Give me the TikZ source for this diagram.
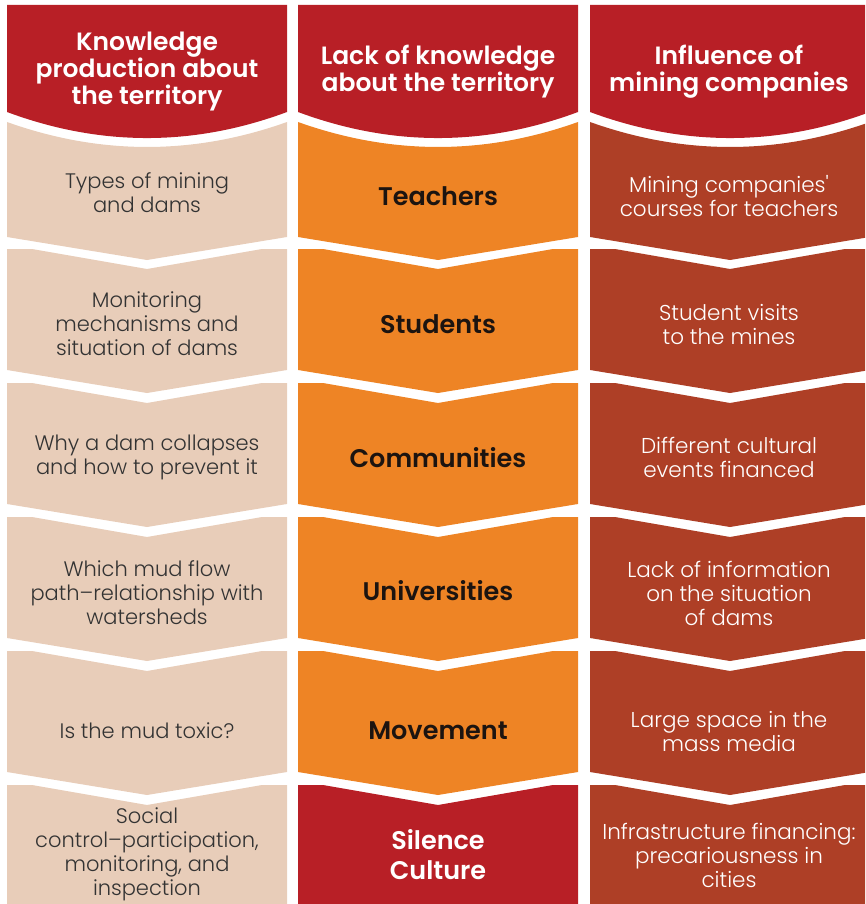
\documentclass[tikz,border=0pt]{standalone}
\usepackage{fontspec}
\setmainfont{Poppins}[BoldFont={Poppins SemiBold}]
\newfontfamily\lightfont{Poppins Light}
\definecolor{hdred}{HTML}{B81F26}
\definecolor{sand}{HTML}{E8CDB9}
\definecolor{amber}{HTML}{EE8425}
\definecolor{rust}{HTML}{AE3F26}
\definecolor{inkgrey}{HTML}{333333}
\definecolor{inkdark}{HTML}{1C1410}

% cell with a notched top and a pointed bottom:
% #1 left x, #2 right x, #3 top y, #4 bottom y, #5 colour
\newcommand\chevcell[5]{%
  \fill[#5] (#1,#3) -- ({#1+25},#3) -- ({(#1+#2)/2},{#3+20}) -- ({#2-25},#3) -- (#2,#3)
    -- (#2,#4) -- ({(#1+#2)/2},{#4+23}) -- (#1,#4) -- cycle;}
% heading block with an arched bottom
\newcommand\headcell[2]{%
  \fill[hdred] (#1,5) -- (#2,5) -- (#2,112)
    .. controls ({#2-(#2-#1)/3},146.7) and ({#1+(#2-#1)/3},146.7) .. (#1,112) -- cycle;}
% first cell, its top following the arch
\newcommand\firstcell[3]{%
  \fill[#3] (#1,122) .. controls ({#1+(#2-#1)/3},155.3) and ({#2-(#2-#1)/3},155.3) .. (#2,122)
    -- (#2,237) -- ({(#1+#2)/2},260) -- (#1,237) -- cycle;}

\tikzset{
  headtext/.style={align=center, text=white, font=\fontsize{25}{27}\selectfont\bfseries},
  lefttext/.style={align=center, text=inkgrey, font=\lightfont\fontsize{21}{24}\selectfont},
  midtext/.style={align=center, text=inkdark, font=\fontsize{25.5}{30}\selectfont\bfseries},
  righttext/.style={align=center, text=white, font=\lightfont\fontsize{21.5}{24}\selectfont},
}

\begin{document}
\begin{tikzpicture}[x=1pt,y=-1pt]
\useasboundingbox (0,0) rectangle (865,904);
\clip (0,0) rectangle (865,904);

% column shapes
\foreach \L/\R/\col in {7/287/sand, 298/578/amber, 590/870/rust}{
  \headcell{\L}{\R}
  \firstcell{\L}{\R}{\col}
  \chevcell{\L}{\R}{249}{370}{\col}
  \chevcell{\L}{\R}{383}{504}{\col}
  \chevcell{\L}{\R}{517}{638}{\col}
  \chevcell{\L}{\R}{651}{772}{\col}
}
\chevcell{7}{287}{785}{930}{sand}
\chevcell{298}{578}{785}{930}{hdred}
\chevcell{590}{870}{785}{930}{rust}

% headings
\node[headtext] (h1) at (147,72) {Knowledge\\production about\\the territory};
\node[headtext] (h2) at (438,72) {Lack of knowledge\\about the territory};
\node[headtext] (h3) at (729,72) {Influence of\\mining companies};

% knowledge production
\node[lefttext] (k1) at (147,193) {Types of mining\\and dams};
\node[lefttext] (k2) at (147,324) {Monitoring\\mechanisms and\\situation of dams};
\node[lefttext] (k3) at (147,457) {Why a dam collapses\\and how to prevent it};
\node[lefttext] (k4) at (147,593) {Which mud flow\\path–relationship with\\watersheds};
\node[lefttext] (k5) at (147,731) {Is the mud toxic?};
\node[lefttext] (k6) at (147,854) {Social\\control–participation,\\monitoring, and\\inspection};

% lack of knowledge
\node[midtext] (m1) at (438,196) {Teachers};
\node[midtext] (m2) at (438,324) {Students};
\node[midtext] (m3) at (438,458) {Communities};
\node[midtext] (m4) at (438,591) {Universities};
\node[midtext] (m5) at (438,731) {Movement};
\node[midtext, text=white] (m6) at (438,855) {Silence\\Culture};

% mining companies
\node[righttext] (c1) at (729,196) {Mining companies{\char39}\\courses for teachers};
\node[righttext] (c2) at (729,324) {Student visits\\to the mines};
\node[righttext] (c3) at (729,457) {Different cultural\\events financed};
\node[righttext] (c4) at (729,593) {Lack of information\\on the situation\\of dams};
\node[righttext] (c5) at (729,731) {Large space in the\\mass media};
\node[righttext] (c6) at (729,855) {Infrastructure financing:\\precariousness in\\cities};
\end{tikzpicture}
\end{document}
